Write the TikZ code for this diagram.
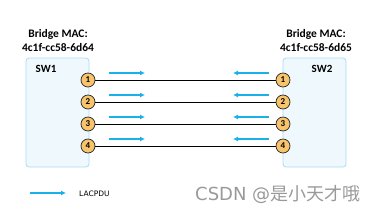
\documentclass[tikz,border=0pt]{standalone}
\usepackage{fontspec}
\setmainfont{Carlito}
\newfontfamily\legendfont{DejaVu Sans}
\newfontfamily\cjk{Noto Sans CJK SC}
\usetikzlibrary{arrows.meta}
\definecolor{boxfill}{HTML}{EFF8FD}
\definecolor{boxline}{HTML}{A8DCF4}
\definecolor{portfill}{HTML}{F8C46B}
\definecolor{arrowblue}{HTML}{1AB0EA}
\tikzset{
  swbox/.style={draw=boxline, fill=boxfill, rounded corners=3pt, line width=0.8pt},
  port/.style={circle, draw=black!85, fill=portfill, line width=0.7pt, minimum size=14pt, inner sep=0pt, font=\bfseries\fontsize{9}{9}\selectfont},
  link/.style={draw=black, line width=0.9pt},
  pdu/.style={draw=arrowblue, line width=1.9pt, -{Latex[length=5pt,width=5pt]}},
  mac/.style={font=\bfseries\fontsize{11.5}{13.5}\selectfont, align=center, inner sep=0pt},
  swlabel/.style={font=\bfseries\fontsize{11}{11}\selectfont, inner sep=0pt}
}
\begin{document}
\begin{tikzpicture}[x=1pt,y=-1pt]
\useasboundingbox (0,0) rectangle (382,215);
\node[mac] (mac1) at (58,40.5) {Bridge MAC:\\4c1f-cc58-6d64};
\node[mac] (mac2) at (316,40.5) {Bridge MAC:\\4c1f-cc58-6d65};
\draw[swbox] (26,58) rectangle (89,167);
\draw[swbox] (283,58) rectangle (346,167);
\node[swlabel] (sw1) at (46,69) {SW1};
\node[swlabel] (sw2) at (322,69) {SW2};
\foreach \i/\y in {1/80,2/102,3/124,4/146}{
  \node[port] (l\i) at (88,\y) {\i};
  \node[port] (r\i) at (283,\y) {\i};
  \draw[link] (l\i) -- (r\i);
  \coordinate (la\i) at (109,\y-7);
  \coordinate (lb\i) at (145,\y-7);
  \coordinate (ra\i) at (269,\y-7);
  \coordinate (rb\i) at (233,\y-7);
  \draw[pdu] (la\i) -- (lb\i);
  \draw[pdu] (ra\i) -- (rb\i);
}
\coordinate (lga) at (30,193);
\coordinate (lgb) at (66,193);
\draw[pdu] (lga) -- (lgb);
\node[anchor=west, inner sep=0pt, font=\legendfont\fontsize{7.5}{7.5}\selectfont] (lg) at (79,193.5) {LACPDU};
\node[anchor=west, inner sep=0pt, text=black!40, font=\fontsize{18}{18}\selectfont] (wm) at (195,194) {\legendfont CSDN @\cjk 是小天才哦};
\end{tikzpicture}
\end{document}
